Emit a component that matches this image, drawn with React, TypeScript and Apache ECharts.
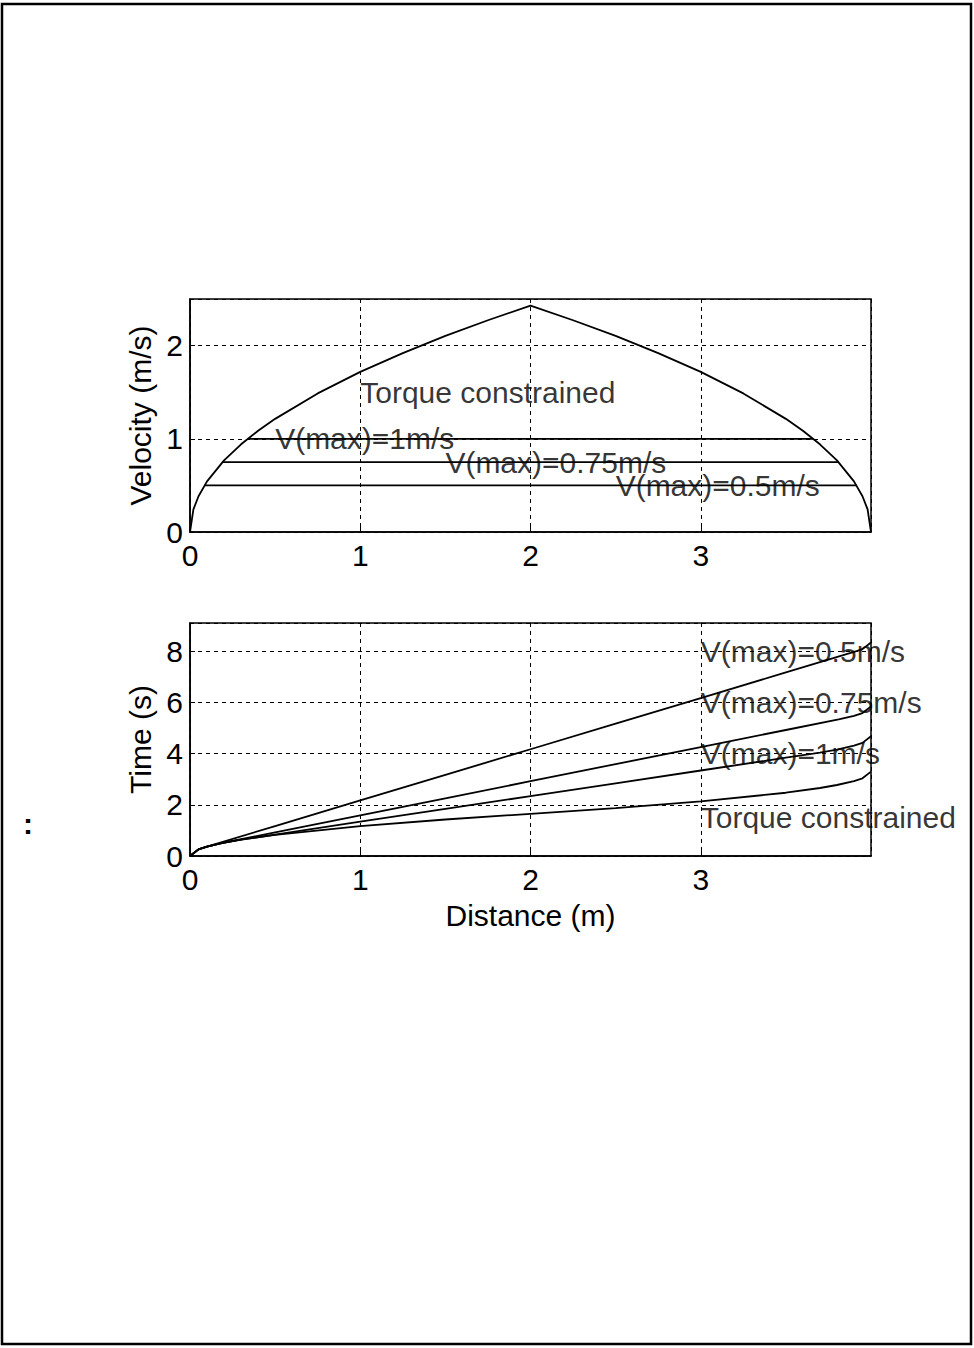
import React, { useEffect, useRef } from "react";
import * as echarts from "echarts";

// ---- Velocity vs distance (top panel) ----
const velDist = [0, 0.02, 0.05, 0.1, 0.2, 0.3, 0.4, 0.5, 0.75, 1, 1.25, 1.5, 1.75, 2, 2.25, 2.5, 2.75, 3, 3.25, 3.5, 3.6, 3.7, 3.8, 3.9, 3.95, 3.98, 4.0];
const velTorque = [0, 0.243, 0.384, 0.543, 0.768, 0.941, 1.086, 1.214, 1.487, 1.718, 1.92, 2.104, 2.272, 2.429, 2.272, 2.104, 1.92, 1.718, 1.487, 1.214, 1.086, 0.941, 0.768, 0.543, 0.384, 0.243, 0];
const cruiseV = [1, 0.75, 0.5];
const cruiseStart = [0.34, 0.19, 0.085];
const cruiseEnd = [3.66, 3.81, 3.915];

const velLabels = ["Torque constrained", "V(max)=1m/s", "V(max)=0.75m/s", "V(max)=0.5m/s"];
const velLabelX = [1, 0.5, 1.5, 2.5];
const velLabelY = [1.5, 1, 0.75, 0.5];

// ---- Time vs distance (bottom panel) ----
const timeTorqueDist = [0, 0.05, 0.1, 0.2, 0.3, 0.5, 1, 1.5, 2, 2.5, 3, 3.5, 3.7, 3.8, 3.9, 3.95, 4.0];
const timeTorque = [0, 0.26, 0.368, 0.521, 0.638, 0.823, 1.164, 1.426, 1.647, 1.868, 2.13, 2.471, 2.656, 2.773, 2.926, 3.034, 3.294];

const time1Dist = [0, 0.05, 0.1, 0.2, 0.3, 0.34, 0.5, 1, 1.5, 2, 2.5, 3, 3.5, 3.66, 3.7, 3.8, 3.9, 3.95, 4.0];
const time1 = [0, 0.26, 0.368, 0.521, 0.638, 0.678, 0.839, 1.339, 1.839, 2.339, 2.839, 3.339, 3.839, 3.999, 4.04, 4.157, 4.31, 4.418, 4.678];

const time075Dist = [0, 0.05, 0.1, 0.19, 0.5, 1, 1.5, 2, 2.5, 3, 3.5, 3.81, 3.9, 3.95, 4.0];
const time075 = [0, 0.26, 0.368, 0.508, 0.921, 1.588, 2.255, 2.921, 3.588, 4.255, 4.921, 5.335, 5.475, 5.583, 5.843];

const time05Dist = [0, 0.05, 0.085, 0.5, 1, 1.5, 2, 2.5, 3, 3.5, 3.915, 3.95, 4.0];
const time05 = [0, 0.26, 0.339, 1.169, 2.169, 3.169, 4.169, 5.169, 6.169, 7.169, 7.999, 8.079, 8.339];

const timeLabels = ["V(max)=0.5m/s", "V(max)=0.75m/s", "V(max)=1m/s", "Torque constrained"];
const timeLabelX = [3, 3, 3, 3];
const timeLabelY = [8, 6, 4, 1.5];

const xTicks = { min: 0, max: 4, interval: 1 };
const FONT = "'Liberation Sans', Arial, Helvetica, sans-serif";
const FS = 30;

const zip = (xs: number[], ys: number[]) => xs.map((x, i) => [x, ys[i]]);

function axisCommon() {
  return {
    type: "value" as const,
    axisLine: { show: true, lineStyle: { color: "#000", width: 1.5 } },
    axisTick: { show: true, inside: true, length: 5, lineStyle: { color: "#000", width: 1 } },
    axisLabel: { color: "#000", fontSize: FS, fontFamily: FONT, showMaxLabel: false },
    splitLine: { show: true, lineStyle: { color: "#000", width: 1, type: [4, 4] as any } },
  };
}

function lineSeries(data: number[][], xi: number) {
  return {
    type: "line",
    xAxisIndex: xi,
    yAxisIndex: xi,
    data,
    showSymbol: false,
    symbol: "none",
    smooth: false,
    lineStyle: { color: "#000", width: 1.8 },
    silent: true,
  };
}

function labelSeries(texts: string[], xs: number[], ys: number[], xi: number) {
  return {
    type: "scatter",
    xAxisIndex: xi,
    yAxisIndex: xi,
    symbolSize: 0,
    silent: true,
    clip: false,
    z: 5,
    data: texts.map((t, i) => ({ value: [xs[i], ys[i]], name: t })),
    label: {
      show: true,
      position: [0, 0],
      align: "left",
      verticalAlign: "middle",
      formatter: (p: any) => p.name,
      color: "#000",
      fontSize: FS,
      fontFamily: FONT,
    },
  };
}

export default function App() {
  const ref = useRef<HTMLDivElement>(null);
  useEffect(() => {
    if (!ref.current) return;
    const chart = echarts.init(ref.current, undefined, { renderer: "svg" });
    const series: any[] = [
      lineSeries(zip(velDist, velTorque), 0),
      ...cruiseV.map((v, i) => lineSeries([[cruiseStart[i], v], [cruiseEnd[i], v]], 0)),
      labelSeries(velLabels, velLabelX, velLabelY, 0),
      lineSeries(zip(time05Dist, time05), 1),
      lineSeries(zip(time075Dist, time075), 1),
      lineSeries(zip(time1Dist, time1), 1),
      lineSeries(zip(timeTorqueDist, timeTorque), 1),
      labelSeries(timeLabels, timeLabelX, timeLabelY, 1),
    ];
    chart.setOption({
      animation: false,
      backgroundColor: "#fff",
      textStyle: { fontFamily: FONT },
      grid: [
        { left: 190, top: 299, width: 681, height: 233, show: true, borderColor: "#000", borderWidth: 1.5, backgroundColor: "transparent" },
        { left: 190, top: 623, width: 681, height: 233, show: true, borderColor: "#000", borderWidth: 1.5, backgroundColor: "transparent" },
      ],
      xAxis: [
        { ...axisCommon(), gridIndex: 0, ...xTicks, axisLabel: { ...axisCommon().axisLabel, margin: 8 } },
        {
          ...axisCommon(),
          gridIndex: 1,
          ...xTicks,
          axisLabel: { ...axisCommon().axisLabel, margin: 8 },
          name: "Distance (m)",
          nameLocation: "middle",
          nameGap: 44,
          nameTextStyle: { color: "#000", fontSize: FS, fontFamily: FONT },
        },
      ],
      yAxis: [
        {
          ...axisCommon(),
          gridIndex: 0,
          min: 0,
          max: 2.5,
          interval: 1,
          axisLabel: { ...axisCommon().axisLabel, margin: 7 },
          name: "Velocity (m/s)",
          nameLocation: "middle",
          nameGap: 32,
          nameTextStyle: { color: "#000", fontSize: FS, fontFamily: FONT },
        },
        {
          ...axisCommon(),
          gridIndex: 1,
          min: 0,
          max: 9.1,
          interval: 2,
          axisLabel: { ...axisCommon().axisLabel, margin: 7 },
          name: "Time (s)",
          nameLocation: "middle",
          nameGap: 32,
          nameTextStyle: { color: "#000", fontSize: FS, fontFamily: FONT },
        },
      ],
      graphic: [
        {
          type: "rect",
          shape: { x: 2, y: 4, width: 969, height: 1340 },
          style: { fill: "none", stroke: "#000", lineWidth: 2.5 },
          silent: true,
        },
        {
          type: "text",
          x: 28,
          y: 823,
          style: { text: ":", fontSize: 30, fontWeight: "bold", fontFamily: FONT, fill: "#000", align: "center", verticalAlign: "middle" },
          silent: true,
        },
      ],
      series,
    });
    return () => chart.dispose();
  }, []);
  return (
    <div
      ref={ref}
      style={{ position: "absolute", left: 0, top: 0, width: 974, height: 1348, background: "#fff" }}
    />
  );
}
